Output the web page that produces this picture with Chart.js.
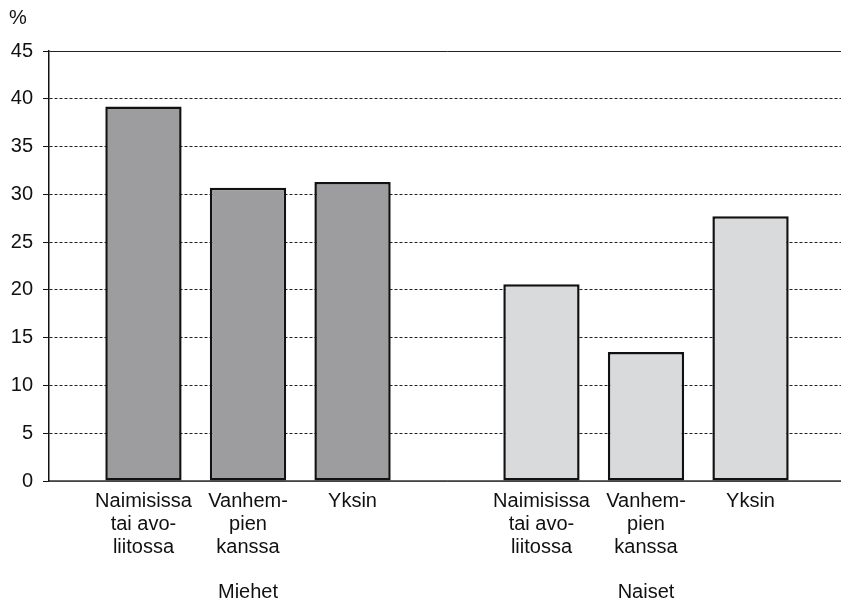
<!DOCTYPE html>
<html>
<head>
<meta charset="utf-8">
<script src="https://cdn.jsdelivr.net/npm/chart.js@4.4.0/dist/chart.umd.min.js"></script>
<style>
  html, body { margin: 0; padding: 0; background: #fff; overflow: hidden; }
  #wrap { width: 845px; height: 602px; }
</style>
</head>
<body>
<div id="wrap"><canvas id="chart"></canvas></div>
<script>
// groups on the x axis
const groups = ['Miehet', 'Naiset'];
// sub categories (one dataset each), split into lines as in the original
const subLabels = [
  ['Naimisissa', 'tai avo-', 'liitossa'],
  ['Vanhem-', 'pien', 'kanssa'],
  ['Yksin'],
];
// values per sub category: [Miehet, Naiset]
const naimisissa = [39.2, 20.6];
const vanhempien = [30.7, 13.5];
const yksin = [31.3, 27.7];
const yTicks = [0, 5, 10, 15, 20, 25, 30, 35, 40, 45];

const groupColors = ['#9d9d9f', '#d9dadc'];
const FONT = 'Liberation Sans, Arial, sans-serif';

// draws the multi-line sub labels under every bar and the "%" unit
const subLabelPlugin = {
  id: 'subLabels',
  afterDraw(chart) {
    const ctx = chart.ctx;
    const bottom = chart.chartArea.bottom;
    ctx.save();
    ctx.fillStyle = '#111';
    ctx.font = '20px ' + FONT;
    ctx.textAlign = 'center';
    ctx.textBaseline = 'middle';
    chart.data.datasets.forEach((ds, i) => {
      const meta = chart.getDatasetMeta(i);
      meta.data.forEach(bar => {
        subLabels[i].forEach((line, j) => {
          ctx.fillText(line, bar.x, bottom + 20 + j * 23);
        });
      });
    });
    ctx.textAlign = 'left';
    ctx.fillText('%', 9, 18);
    ctx.restore();
  }
};

const ctx = document.getElementById('chart').getContext('2d');
new Chart(ctx, {
  type: 'bar',
  data: {
    labels: groups,
    datasets: [
      { label: subLabels[0].join(' '), data: naimisissa },
      { label: subLabels[1].join(' '), data: vanhempien },
      { label: subLabels[2].join(' '), data: yksin },
    ].map(d => Object.assign(d, {
      backgroundColor: groupColors,
      borderColor: '#111',
      borderWidth: 2.5,
      borderSkipped: false,
      categoryPercentage: 0.788,
      barPercentage: 0.73,
    })),
  },
  options: {
    responsive: true,
    maintainAspectRatio: false,
    animation: false,
    layout: { padding: { left: 10, top: 51, right: 0, bottom: 0 } },
    plugins: {
      legend: { display: false },
      tooltip: { enabled: false },
    },
    scales: {
      x: {
        grid: { display: false, drawTicks: false },
        border: { display: true, color: '#666', width: 1.5 },
        ticks: {
          color: '#111',
          font: { family: FONT, size: 20 },
          padding: 99,
        },
        afterFit: axis => { axis.height = 121; },
      },
      y: {
        min: 0,
        max: 45,
        afterBuildTicks: axis => { axis.ticks = yTicks.map(v => ({ value: v })); },
        afterFit: axis => { axis.width = 39; },
        grid: {
          color: '#222',
          lineWidth: 1,
          tickLength: 6,
          tickColor: '#111',
        },
        border: {
          display: true,
          color: '#111',
          width: 1.5,
          dash: ctx => (ctx.tick && (ctx.tick.value === 45 || ctx.tick.value === 0)) ? [] : [3, 2],
        },
        ticks: {
          color: '#111',
          font: { family: FONT, size: 20 },
          padding: 10,
        },
      },
    },
  },
  plugins: [subLabelPlugin],
});
</script>
</body>
</html>
